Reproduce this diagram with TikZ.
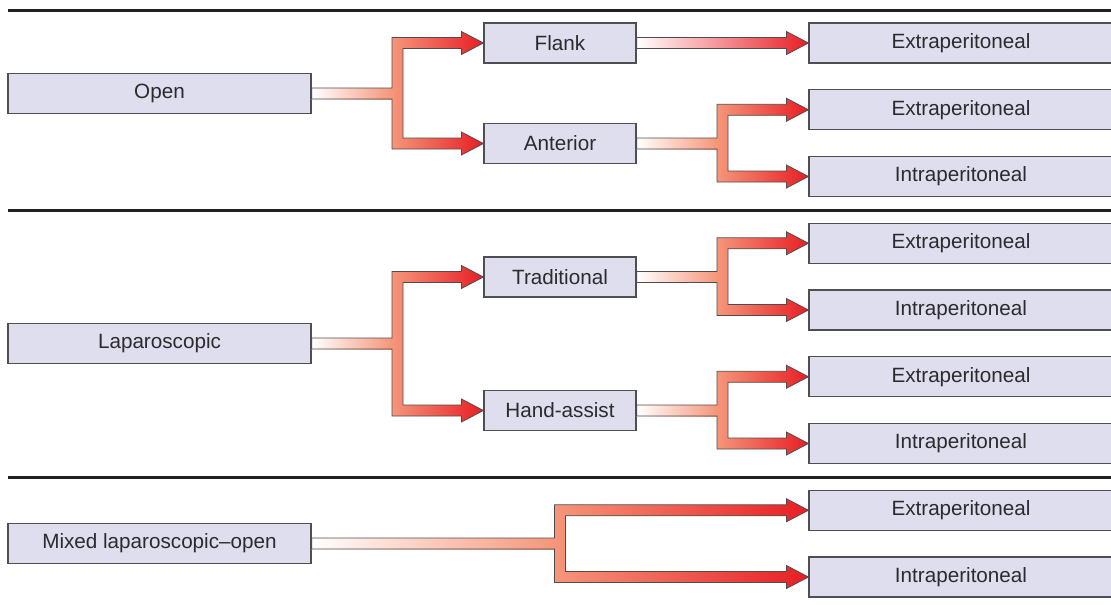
\documentclass[tikz,border=0pt]{standalone}
\usepackage{fontspec}
\setmainfont{Liberation Sans}
\usetikzlibrary{calc}

\definecolor{boxfill}{RGB}{222,222,238}
\definecolor{boxline}{RGB}{78,78,84}
\definecolor{txt}{RGB}{45,42,45}
\definecolor{salmon}{RGB}{245,150,122}
\definecolor{arrowred}{RGB}{232,30,36}
\definecolor{arrowline}{RGB}{80,76,78}
\definecolor{rulecol}{RGB}{35,31,32}

% arrow geometry: half shaft width, half head height, head length, bar width
\def\arw{4.125pt}
\def\arh{8.625pt}
\def\arl{16.5pt}
\def\barw{8.25pt}

% forked arrow: source, upper target, lower target, junction coordinate
\newcommand\forkarrow[4]{%
  \path[left color=white, right color=salmon]
    let \p1=(#1.east), \p4=(#4) in
    (\x1,{\y1+\arw}) rectangle (\x4,{\y1-\arw});
  \path[left color=salmon, right color=arrowred]
    let \p2=(#2.west), \p3=(#3.west), \p4=(#4) in
    (\x4,{\y2+\arw}) -- ({\x2-\arl},{\y2+\arw}) -- ({\x2-\arl},{\y2+\arh}) -- (\x2,\y2)
    -- ({\x2-\arl},{\y2-\arh}) -- ({\x2-\arl},{\y2-\arw}) -- ({\x4+\barw},{\y2-\arw})
    -- ({\x4+\barw},{\y3+\arw}) -- ({\x3-\arl},{\y3+\arw}) -- ({\x3-\arl},{\y3+\arh})
    -- (\x3,\y3) -- ({\x3-\arl},{\y3-\arh}) -- ({\x3-\arl},{\y3-\arw}) -- (\x4,{\y3-\arw}) -- cycle;
  \draw[arrowoutline]
    let \p1=(#1.east), \p2=(#2.west), \p3=(#3.west), \p4=(#4) in
    (\x1,{\y1+\arw}) -- (\x4,{\y1+\arw})
    -- (\x4,{\y2+\arw}) -- ({\x2-\arl},{\y2+\arw}) -- ({\x2-\arl},{\y2+\arh}) -- (\x2,\y2)
    -- ({\x2-\arl},{\y2-\arh}) -- ({\x2-\arl},{\y2-\arw}) -- ({\x4+\barw},{\y2-\arw})
    -- ({\x4+\barw},{\y3+\arw}) -- ({\x3-\arl},{\y3+\arw}) -- ({\x3-\arl},{\y3+\arh})
    -- (\x3,\y3) -- ({\x3-\arl},{\y3-\arh}) -- ({\x3-\arl},{\y3-\arw}) -- (\x4,{\y3-\arw})
    -- (\x4,{\y1-\arw}) -- (\x1,{\y1-\arw}) -- cycle;
}

% straight arrow: source, target
\newcommand\straightarrow[2]{%
  \path[left color=white, middle color=salmon, right color=arrowred, arrowoutline]
    let \p1=(#1.east), \p2=(#2.west) in
    (\x1,{\y1+\arw}) -- ({\x2-\arl},{\y1+\arw}) -- ({\x2-\arl},{\y1+\arh}) -- (\x2,\y1)
    -- ({\x2-\arl},{\y1-\arh}) -- ({\x2-\arl},{\y1-\arw}) -- (\x1,{\y1-\arw}) -- cycle;
}

\begin{document}
\begin{tikzpicture}[x=0.75pt,y=-0.75pt,
  box/.style={draw=boxline, line width=0.9pt, fill=boxfill, inner sep=0pt,
    minimum height=30pt, text=txt, font=\fontsize{15.5}{18}\selectfont},
  mainbox/.style={box, minimum width=227.25pt},
  midbox/.style={box, minimum width=114pt},
  endbox/.style={box, minimum width=228pt},
  arrowoutline/.style={draw=arrowline, line width=0.6pt, line join=miter},
  sectionrule/.style={draw=rulecol, line width=2pt}]

\useasboundingbox (0,0) rectangle (1111,604);

% section rules
\draw[sectionrule] (8,10.7) -- (1111,10.7);
\draw[sectionrule] (8,210.7) -- (1111,210.7);
\draw[sectionrule] (8,477.3) -- (1111,477.3);

% approaches
\node[mainbox] (open)  at (159.5,93.5)  {Open};
\node[mainbox] (lap)   at (159.5,343.5) {Laparoscopic};
\node[mainbox] (mixed) at (159.5,543.5) {Mixed laparoscopic–open};

% incisions / techniques
\node[midbox] (flank) at (560,43)    {Flank};
\node[midbox] (ant)   at (560,143.5) {Anterior};
\node[midbox] (trad)  at (560,277)   {Traditional};
\node[midbox] (hand)  at (560,410.5) {Hand-assist};

% routes
\node[endbox] (e1) at (961,43)     {Extraperitoneal};
\node[endbox] (e2) at (961,109.75) {Extraperitoneal};
\node[endbox] (i2) at (961,176.5)  {Intraperitoneal};
\node[endbox] (e3) at (961,243.25) {Extraperitoneal};
\node[endbox] (i3) at (961,310)    {Intraperitoneal};
\node[endbox] (e4) at (961,376.75) {Extraperitoneal};
\node[endbox] (i4) at (961,443.5)  {Intraperitoneal};
\node[endbox] (e5) at (961,510.25) {Extraperitoneal};
\node[endbox] (i5) at (961,577)    {Intraperitoneal};

% junction points of the forked arrows
\coordinate (jopen)  at (392,0);
\coordinate (jant)   at (717,0);
\coordinate (jlap)   at (392,0);
\coordinate (jtrad)  at (717,0);
\coordinate (jhand)  at (717,0);
\coordinate (jmixed) at (554.5,0);

\forkarrow{open}{flank}{ant}{jopen}
\straightarrow{flank}{e1}
\forkarrow{ant}{e2}{i2}{jant}
\forkarrow{lap}{trad}{hand}{jlap}
\forkarrow{trad}{e3}{i3}{jtrad}
\forkarrow{hand}{e4}{i4}{jhand}
\forkarrow{mixed}{e5}{i5}{jmixed}

\end{tikzpicture}
\end{document}
